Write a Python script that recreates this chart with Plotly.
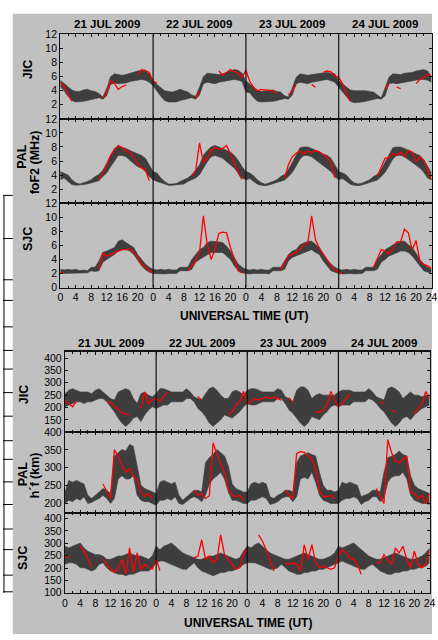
import plotly.graph_objects as go

N = None
HOURS = list(range(97))
DAY_LABELS = ["21 JUL 2009", "22 JUL 2009", "23 JUL 2009", "24 JUL 2009"]
X_TICK_VALS = list(range(0, 97, 4))
X_TICK_TEXT = [str(v % 24) for v in X_TICK_VALS[:-1]] + ["24"]

# ---------------- foF2 (MHz) ----------------
JIC_FOF2_LO = [
    4.6, 4.0, 3.2, 2.6, 2.4, 2.4, 2.5, 2.6, 2.7, 2.9, 3.0, 2.8, 3.3, 4.9, 5.1, 5.0, 5.0, 5.1, 5.3, 5.4, 5.5, 5.6, 5.5, 5.2,
    4.7, 3.9, 3.2, 2.6, 2.4, 2.4, 2.4, 2.6, 2.7, 2.9, 3.0, 2.8, 3.4, 5.0, 5.2, 5.1, 5.0, 5.2, 5.3, 5.4, 5.5, 5.6, 5.5, 5.3,
    3.8, 3.7, 3.0, 2.5, 2.4, 2.4, 2.4, 2.5, 2.6, 2.8, 2.9, 2.8, 3.4, 5.0, 5.2, 5.1, 5.0, 5.2, 5.3, 5.4, 5.5, 5.6, 5.4, 5.2,
    4.5, 3.8, 3.1, 2.5, 2.3, 2.3, 2.4, 2.5, 2.6, 2.8, 2.9, 2.8, 3.3, 5.0, 5.1, 5.0, 5.1, 5.3, 5.3, 5.4, 5.5, 5.6, 5.6, 5.5,
    5.2]
JIC_FOF2_HI = [
    5.5, 5.0, 4.6, 4.1, 3.9, 3.9, 4.1, 4.2, 4.0, 3.9, 3.6, 3.1, 4.3, 6.0, 6.4, 6.3, 6.2, 6.3, 6.5, 6.6, 6.8, 6.9, 6.8, 6.4,
    5.5, 4.9, 4.4, 4.0, 3.9, 3.8, 4.0, 4.2, 4.0, 3.8, 3.4, 3.2, 4.5, 6.0, 6.5, 6.4, 6.3, 6.3, 6.4, 6.6, 6.9, 7.0, 6.9, 6.5,
    5.4, 4.9, 4.4, 4.0, 3.9, 4.0, 4.1, 4.1, 3.9, 3.8, 3.3, 3.1, 4.4, 5.9, 6.4, 6.3, 6.2, 6.3, 6.4, 6.5, 6.6, 6.6, 6.5, 6.4,
    5.4, 5.0, 4.5, 4.1, 4.0, 4.0, 4.1, 4.0, 3.9, 3.8, 3.4, 3.0, 4.4, 5.9, 6.4, 6.3, 6.3, 6.5, 6.5, 6.6, 6.8, 6.9, 7.0, 6.8,
    6.0]
JIC_FOF2_OBS = [
    5.2, 4.6, 3.6, 2.5, N, N, N, N, N, N, N, 2.9, 3.8, 5.4, 5.0, 4.2, 4.6, 4.8, N, N, 6.2, 7.0, 6.9, 6.6,
    5.3, 5.1, N, N, N, N, N, N, N, N, N, 2.9, 3.9, N, N, N, N, 6.8, 6.2, 6.6, 7.0, 6.7, 6.5, 5.9,
    6.9, 5.3, 4.5, 4.0, 4.2, 4.1, 4.1, 4.0, 3.6, N, N, 3.4, 4.0, 4.9, N, N, N, 4.9, 4.5, N, 6.6, 6.8, 6.7, 6.1,
    5.9, 5.0, 3.6, 2.5, N, N, N, N, N, N, N, N, 4.2, 5.0, N, 4.5, 4.3, N, N, N, 5.0, 5.6, 5.9, 6.3,
    6.0]

PAL_FOF2_LO = [
    3.35, 3.6, 3.1, 2.65, 2.55, 2.55, 2.65, 2.75, 2.9, 3.1, 3.2, 3.8, 4.3, 5.2, 6.1, 6.8, 6.8, 6.6, 6.1, 5.7, 5.2, 5.0, 4.5, 3.8,
    3.35, 3.1, 2.9, 2.65, 2.55, 2.55, 2.6, 2.65, 2.75, 3.1, 3.35, 3.6, 4.05, 5.0, 5.9, 6.6, 6.8, 6.6, 6.4, 5.9, 5.4, 5.0, 4.3, 3.6,
    3.35, 3.5, 3.1, 2.7, 2.55, 2.5, 2.6, 2.75, 2.9, 3.1, 3.3, 3.8, 4.4, 5.3, 6.3, 6.8, 6.8, 6.6, 6.2, 5.8, 5.3, 5.0, 4.5, 3.8,
    3.35, 3.5, 3.1, 2.7, 2.55, 2.5, 2.6, 2.75, 2.9, 3.1, 3.3, 3.8, 4.4, 5.3, 6.3, 6.8, 6.8, 6.6, 6.2, 5.8, 5.3, 5.0, 4.4, 3.6,
    3.3]
PAL_FOF2_HI = [
    4.5, 4.3, 4.0, 3.35, 2.9, 2.75, 2.9, 3.1, 3.35, 3.8, 4.1, 4.7, 5.7, 6.8, 7.8, 8.1, 8.0, 7.8, 7.5, 7.3, 7.1, 6.8, 6.4, 5.4,
    4.5, 4.3, 3.6, 3.1, 2.75, 2.75, 2.8, 3.1, 3.35, 3.6, 4.05, 4.7, 5.45, 6.8, 7.5, 8.0, 8.2, 8.0, 7.8, 7.5, 7.3, 6.8, 6.1, 5.2,
    4.5, 4.3, 3.9, 3.3, 2.9, 2.7, 2.85, 3.1, 3.35, 3.8, 4.1, 4.8, 5.8, 6.9, 7.9, 8.0, 8.0, 7.8, 7.6, 7.3, 7.0, 6.8, 6.4, 5.4,
    4.5, 4.3, 4.0, 3.35, 2.9, 2.75, 2.85, 3.1, 3.35, 3.8, 4.1, 4.8, 5.8, 6.9, 7.9, 8.0, 8.0, 7.8, 7.6, 7.3, 7.0, 6.8, 6.2, 5.2,
    4.3]
PAL_FOF2_OBS = [
    N, N, N, N, N, N, N, N, N, N, 3.35, 4.3, 5.5, 6.8, 7.6, 8.2, 7.9, 7.4, 7.2, 6.5, 5.6, 5.0, 4.8, 3.2,
    N, N, N, N, N, N, N, N, N, N, 3.8, 4.6, 8.6, 5.8, 6.4, 7.5, 7.9, 7.7, 7.8, 8.2, 7.0, 5.7, 4.3, 3.4,
    N, N, N, N, N, N, N, N, N, N, 3.5, 5.5, 6.6, 7.1, 7.4, 7.0, 7.4, 7.2, 7.5, 7.3, 6.9, 6.5, 5.8, 3.6,
    N, N, N, N, N, N, N, N, N, N, 3.9, 5.2, 6.4, 6.4, 7.1, 6.8, 7.3, 6.6, 7.5, 7.3, 5.9, 6.6, 6.1, 4.7,
    3.35]

SJC_FOF2_LO = [
    2.0, 2.0, 2.0, 2.0, 2.0, 2.0, 2.0, 2.1, 2.4, 2.3, 2.4, 3.6, 4.0, 4.3, 4.7, 5.2, 5.4, 5.4, 5.2, 4.7, 3.8, 3.1, 2.55, 2.2,
    2.0, 1.95, 2.0, 1.95, 2.0, 1.95, 2.0, 2.4, 2.4, 2.4, 2.6, 3.6, 4.0, 4.3, 4.7, 5.0, 5.0, 5.0, 5.0, 4.5, 4.0, 3.1, 2.4, 2.1,
    2.0, 1.95, 2.0, 1.95, 2.0, 2.0, 1.95, 2.4, 2.4, 2.4, 2.6, 3.8, 4.3, 4.5, 4.7, 5.0, 5.2, 5.4, 5.0, 4.7, 3.8, 3.1, 2.4, 2.2,
    2.0, 1.95, 2.0, 2.0, 1.95, 2.0, 2.0, 2.4, 2.4, 2.4, 2.6, 3.6, 4.0, 4.5, 4.7, 5.0, 5.2, 5.2, 5.0, 4.5, 3.8, 3.1, 2.4, 2.2,
    2.1]
SJC_FOF2_HI = [
    2.6, 2.5, 2.6, 2.5, 2.6, 2.4, 2.5, 2.4, 2.9, 2.9, 3.8, 5.0, 5.2, 5.4, 5.7, 6.6, 6.8, 6.4, 6.1, 5.7, 4.7, 4.0, 3.35, 2.9,
    2.6, 2.5, 2.6, 2.5, 2.6, 2.5, 2.5, 2.9, 2.9, 2.9, 4.0, 4.7, 5.4, 5.7, 6.4, 6.6, 6.6, 6.5, 6.4, 5.9, 5.2, 4.3, 3.35, 2.9,
    2.6, 2.5, 2.6, 2.5, 2.6, 2.5, 2.5, 2.9, 2.9, 2.9, 3.8, 4.7, 5.2, 5.4, 6.1, 6.4, 6.6, 6.6, 6.1, 5.7, 4.7, 4.0, 3.35, 2.9,
    2.6, 2.5, 2.6, 2.5, 2.6, 2.5, 2.5, 2.9, 2.9, 2.9, 4.0, 4.7, 5.4, 5.7, 6.1, 6.4, 6.6, 6.6, 6.1, 5.7, 4.9, 4.0, 3.35, 2.9,
    2.6]
SJC_FOF2_OBS = [
    2.1, 2.2, N, N, N, N, N, N, N, N, 2.6, 4.9, 4.5, 4.7, 5.0, 5.2, 5.4, 5.4, 5.5, 5.0, 4.3, 3.35, 2.9, 2.4,
    2.1, N, N, N, N, N, N, N, N, 2.4, 3.1, 3.8, 5.0, 10.2, 6.2, 4.0, 5.5, 7.7, 7.9, 7.8, 5.7, 4.0, 2.4, 2.1,
    N, N, N, N, N, N, N, N, N, 2.4, 3.6, 4.5, 4.7, 5.0, 5.4, 6.1, 6.3, 10.2, 6.8, 5.6, 4.8, 4.0, 3.1, 2.5,
    2.2, 2.0, N, N, N, N, N, N, N, 2.9, 4.1, 5.4, 5.2, 4.8, 5.5, 6.5, 6.5, 8.3, 7.8, 5.4, 6.7, 3.8, 3.3, 3.1,
    2.7]

# ---------------- h'F (km) ----------------
JIC_HMF_LO = [
    203, 210, 216, 223, 223, 216, 223, 223, 230, 236, 236, 223, 203, 183, 157, 137, 123, 137, 157, 163, 143, 170, 190, 203,
    196, 203, 210, 210, 223, 223, 223, 223, 236, 236, 223, 196, 183, 163, 137, 123, 137, 150, 170, 163, 157, 170, 183, 203,
    216, 210, 210, 216, 223, 223, 223, 223, 236, 236, 216, 190, 177, 157, 137, 123, 137, 163, 157, 150, 170, 183, 203, 210,
    203, 210, 210, 210, 223, 223, 223, 223, 236, 230, 216, 196, 183, 157, 137, 123, 137, 157, 163, 150, 170, 183, 196, 203,
    210]
JIC_HMF_HI = [
    256, 270, 276, 270, 263, 263, 263, 256, 270, 276, 263, 250, 236, 230, 263, 270, 276, 270, 236, 216, 256, 263, 250, 243,
    256, 276, 276, 270, 263, 263, 263, 263, 276, 263, 243, 236, 230, 256, 276, 283, 270, 250, 236, 236, 263, 270, 263, 250,
    270, 276, 276, 270, 263, 263, 263, 263, 276, 270, 243, 236, 223, 270, 283, 283, 270, 236, 250, 256, 250, 250, 250, 250,
    263, 270, 270, 270, 263, 263, 263, 263, 276, 263, 243, 236, 230, 276, 283, 276, 263, 236, 250, 263, 250, 250, 243, 250,
    250]
JIC_HMF_OBS = [
    228, 214, 203, 225, N, N, N, N, N, N, N, 225, 220, 205, 190, 178, 173, 170, N, N, 196, 262, 216, 230,
    236, 225, 245, 262, N, N, N, N, N, N, N, 245, 230, N, N, N, N, N, N, 170, 183, 210, 223, 265,
    216, 223, 236, 230, 236, 243, 236, 243, 236, 230, N, 240, 220, N, N, N, N, N, 185, 180, 190, 210, 265, 230,
    203, 216, 236, 256, N, N, N, N, N, N, N, 225, 216, N, 190, 180, N, N, N, N, 175, 195, 215, 265,
    235]

PAL_HMF_LO = [
    199, 208, 204, 213, 208, 218, 199, 202, 208, 213, 222, 213, 199, 213, 268, 277, 268, 268, 277, 222, 208, 204, 204, 199,
    194, 208, 208, 213, 208, 218, 199, 196, 204, 213, 218, 213, 204, 222, 254, 268, 277, 287, 268, 231, 208, 208, 204, 199,
    199, 208, 208, 213, 218, 213, 196, 199, 204, 213, 218, 218, 204, 218, 268, 273, 268, 287, 259, 222, 208, 204, 199, 199,
    199, 208, 213, 213, 218, 213, 196, 204, 208, 218, 218, 204, 213, 259, 273, 277, 277, 287, 268, 222, 208, 204, 199, 199,
    196]
PAL_HMF_HI = [
    231, 264, 259, 264, 259, 254, 222, 213, 222, 231, 241, 236, 227, 333, 342, 351, 347, 365, 360, 305, 250, 241, 236, 231,
    227, 259, 264, 259, 254, 259, 222, 208, 218, 227, 236, 236, 231, 314, 328, 337, 351, 342, 333, 305, 254, 241, 236, 231,
    231, 254, 259, 254, 259, 254, 218, 213, 222, 227, 236, 236, 231, 314, 333, 337, 342, 337, 333, 287, 250, 236, 236, 231,
    236, 259, 254, 259, 254, 250, 218, 222, 227, 236, 236, 231, 287, 328, 333, 337, 347, 337, 333, 277, 250, 241, 236, 231,
    227]
PAL_HMF_OBS = [
    N, N, N, N, N, N, N, N, N, N, 254, 231, 213, 350, 333, 305, 287, 296, 277, 264, 231, 218, 227, 213,
    N, N, N, N, N, N, N, N, N, N, 236, 222, 227, 213, 220, 370, 337, 314, 287, 241, 222, 218, 222, 208,
    N, N, N, N, N, N, N, N, N, N, 236, 222, 213, 340, 345, 343, 333, 325, 296, 236, 218, 218, 222, 213,
    N, N, N, N, N, N, N, N, N, N, 241, 218, 199, 379, 342, 319, 314, 323, 333, 231, 227, 213, 222, 199,
    227]

SJC_HMF_LO = [
    215, 221, 221, 215, 201, 201, 195, 188, 195, 215, 221, 201, 188, 182, 175, 175, 169, 175, 175, 182, 188, 188, 188, 201,
    221, 228, 228, 221, 215, 208, 201, 195, 195, 208, 221, 201, 188, 182, 175, 169, 175, 182, 182, 188, 188, 195, 201, 215,
    221, 221, 221, 215, 208, 201, 195, 195, 201, 215, 201, 188, 182, 175, 175, 182, 182, 188, 188, 195, 195, 201, 208, 215,
    221, 228, 221, 215, 208, 201, 195, 195, 208, 215, 201, 188, 182, 175, 175, 182, 182, 188, 188, 195, 195, 201, 201, 208,
    221]
SJC_HMF_HI = [
    288, 281, 288, 294, 301, 281, 268, 261, 254, 254, 248, 235, 235, 241, 248, 248, 254, 261, 254, 248, 248, 241, 235, 248,
    288, 274, 288, 294, 301, 288, 274, 261, 254, 248, 241, 235, 235, 241, 248, 248, 254, 261, 254, 248, 241, 235, 241, 268,
    288, 281, 294, 301, 288, 274, 261, 254, 248, 241, 235, 235, 241, 248, 254, 261, 254, 248, 241, 235, 235, 241, 248, 261,
    288, 281, 288, 294, 301, 288, 274, 261, 248, 241, 235, 235, 241, 248, 254, 261, 254, 248, 241, 235, 235, 241, 248, 261,
    281]
SJC_HMF_OBS = [
    250, 241, N, N, 288, 268, 240, 205, N, N, 235, 215, 195, 182, 201, 235, 175, 281, 182, 261, 195, 215, 201, 195,
    235, 190, N, N, N, N, N, N, N, N, 241, 248, 314, 235, 248, 221, 235, 334, 254, 235, 215, 195, 201, 254,
    275, N, N, 334, 308, 274, 235, 188, N, N, 221, 215, 221, 215, 188, 294, 235, 294, 221, 201, 208, 201, 195, 201,
    248, 274, 261, 241, 235, 215, 175, N, N, N, 221, 221, 254, 235, 215, 281, 261, 288, 235, 201, 268, 215, 201, 215,
    274]

# ---------------- styling / layout ----------------
W, H = 438, 640
BG = "#c0c0c0"
BAND = "#3e3e3e"
RED = "#ff0000"
AX = "#111111"
FONT = "Liberation Sans, Arial, sans-serif"


def px_x(p):
    return p / W


def px_y(p):
    return 1 - p / H


TOP_XDOM = [px_x(58.5), px_x(437.5)]
BOT_XDOM = [px_x(63.3), px_x(435.5)]

panels = [
    dict(lo=JIC_FOF2_LO, hi=JIC_FOF2_HI, obs=JIC_FOF2_OBS, yr=[0, 12], tv=[2, 4, 6, 8, 10, 12], top=29, bot=115, xdom=TOP_XDOM, labels=False),
    dict(lo=PAL_FOF2_LO, hi=PAL_FOF2_HI, obs=PAL_FOF2_OBS, yr=[0, 12], tv=[2, 4, 6, 8, 10, 12], top=115, bot=201, xdom=TOP_XDOM, labels=False),
    dict(lo=SJC_FOF2_LO, hi=SJC_FOF2_HI, obs=SJC_FOF2_OBS, yr=[0, 12], tv=[0, 2, 4, 6, 8, 10, 12], top=201, bot=287, xdom=TOP_XDOM, labels=True),
    dict(lo=JIC_HMF_LO, hi=JIC_HMF_HI, obs=JIC_HMF_OBS, yr=[100, 426], tv=[150, 200, 250, 300, 350, 400], top=352.3, bot=434.3, xdom=BOT_XDOM, labels=False),
    dict(lo=PAL_HMF_LO, hi=PAL_HMF_HI, obs=PAL_HMF_OBS, yr=[172, 400], tv=[200, 250, 300, 350, 400], top=434.3, bot=516.7, xdom=BOT_XDOM, labels=False),
    dict(lo=SJC_HMF_LO, hi=SJC_HMF_HI, obs=SJC_HMF_OBS, yr=[100, 422], tv=[100, 150, 200, 250, 300, 350, 400], top=516.7, bot=598, xdom=BOT_XDOM, labels=True),
]

fig = go.Figure()
layout = dict(
    width=W, height=H, autosize=False,
    margin=dict(l=0, r=0, t=0, b=0, pad=0),
    paper_bgcolor="white", plot_bgcolor=BG,
    showlegend=False,
    font=dict(family=FONT, size=10, color="black"),
)

for i, p in enumerate(panels, start=1):
    xa = "x" if i == 1 else f"x{i}"
    ya = "y" if i == 1 else f"y{i}"
    fig.add_trace(go.Scatter(x=HOURS, y=p["lo"], mode="lines", line=dict(width=0.6, color=BAND),
                             xaxis=xa, yaxis=ya, hoverinfo="skip"))
    fig.add_trace(go.Scatter(x=HOURS, y=p["hi"], mode="lines", line=dict(width=0.6, color=BAND),
                             fill="tonexty", fillcolor=BAND, xaxis=xa, yaxis=ya, hoverinfo="skip"))
    fig.add_trace(go.Scatter(x=HOURS, y=p["obs"], mode="lines", line=dict(width=1.3, color=RED),
                             connectgaps=False, xaxis=xa, yaxis=ya, hoverinfo="skip"))
    layout["xaxis" if i == 1 else f"xaxis{i}"] = dict(
        domain=p["xdom"], range=[0, 96], anchor=ya,
        showline=True, linecolor=AX, linewidth=1.2, mirror="ticks",
        ticks="inside", ticklen=3, tickwidth=1, tickcolor=AX,
        tickmode="array", tickvals=X_TICK_VALS, ticktext=X_TICK_TEXT,
        showticklabels=p["labels"], tickfont=dict(size=10.5, family=FONT, color="black"),
        ticklabeloverflow="allow",
        showgrid=False, zeroline=False, fixedrange=True,
        minor=dict(tickvals=list(range(2, 96, 4)), ticks="inside", ticklen=2, tickcolor=AX),
    )
    layout["yaxis" if i == 1 else f"yaxis{i}"] = dict(
        domain=[px_y(p["bot"]), px_y(p["top"])], range=p["yr"], anchor=xa,
        showline=True, linecolor=AX, linewidth=1.2, mirror="ticks",
        ticks="inside", ticklen=3, tickwidth=1, tickcolor=AX,
        tickmode="array", tickvals=p["tv"], ticktext=[str(v) for v in p["tv"]],
        tickfont=dict(size=10.5, family=FONT, color="black"),
        showgrid=False, zeroline=False, fixedrange=True,
    )

shapes = [
    dict(type="rect", xref="paper", yref="paper", x0=px_x(10), x1=1.0, y0=0, y1=px_y(8),
         fillcolor=BG, line=dict(width=0), layer="below"),
]
# day separators
for xa, top, bot in (("x", 29, 287), ("x4", 352.3, 598)):
    for d in (24, 48, 72):
        shapes.append(dict(type="line", xref=xa, yref="paper", x0=d, x1=d, y0=px_y(bot), y1=px_y(top),
                           line=dict(color=AX, width=1.2), layer="above"))
# cropped table edge on the far left
shapes.append(dict(type="line", xref="paper", yref="paper", x0=px_x(1), x1=px_x(1), y0=px_y(598), y1=px_y(193),
                   line=dict(color="black", width=1)))
for yy in (193, 237, 279, 300, 327, 351, 370, 394, 418, 443, 462, 485, 508, 533, 554, 580, 597):
    shapes.append(dict(type="line", xref="paper", yref="paper", x0=0, x1=px_x(10), y0=px_y(yy), y1=px_y(yy),
                       line=dict(color="black", width=1)))
layout["shapes"] = shapes

ann = []
bold = dict(family=FONT, color="black")
for k, lab in enumerate(DAY_LABELS):
    ann.append(dict(text=f"<b>{lab}</b>", xref="x", yref="paper", x=12 + 24 * k, y=px_y(18),
                    showarrow=False, font=dict(size=11.5, **bold), xanchor="center", yanchor="middle"))
    ann.append(dict(text=f"<b>{lab}</b>", xref="x4", yref="paper", x=12 + 24 * k, y=px_y(343),
                    showarrow=False, font=dict(size=11.5, **bold), xanchor="center", yanchor="middle"))
for xx, yy in ((246, 316), (250, 629)):
    ann.append(dict(text="<b>UNIVERSAL TIME (UT)</b>", xref="paper", yref="paper", x=px_x(xx), y=px_y(yy),
                    showarrow=False, font=dict(size=12, **bold), xanchor="center", yanchor="middle"))
ylabs = [
    ("JIC", 25, 65), ("PAL", 20, 154), ("foF2 (MHz)", 33, 159), ("SJC", 25, 237),
    ("JIC", 21, 396), ("PAL", 20.5, 477), ("h´f (km)", 33, 478), ("SJC", 21, 563),
]
for txt, xx, yy in ylabs:
    ann.append(dict(text=f"<b>{txt}</b>", xref="paper", yref="paper", x=px_x(xx), y=px_y(yy),
                    showarrow=False, textangle=-90, font=dict(size=12.5, **bold),
                    xanchor="center", yanchor="middle"))
layout["annotations"] = ann

fig.update_layout(**layout)
fig.write_html("out.html", include_plotlyjs=True, config={"displayModeBar": False, "staticPlot": True},
               post_script="document.body.style.margin='0';document.body.style.overflow='hidden';")
